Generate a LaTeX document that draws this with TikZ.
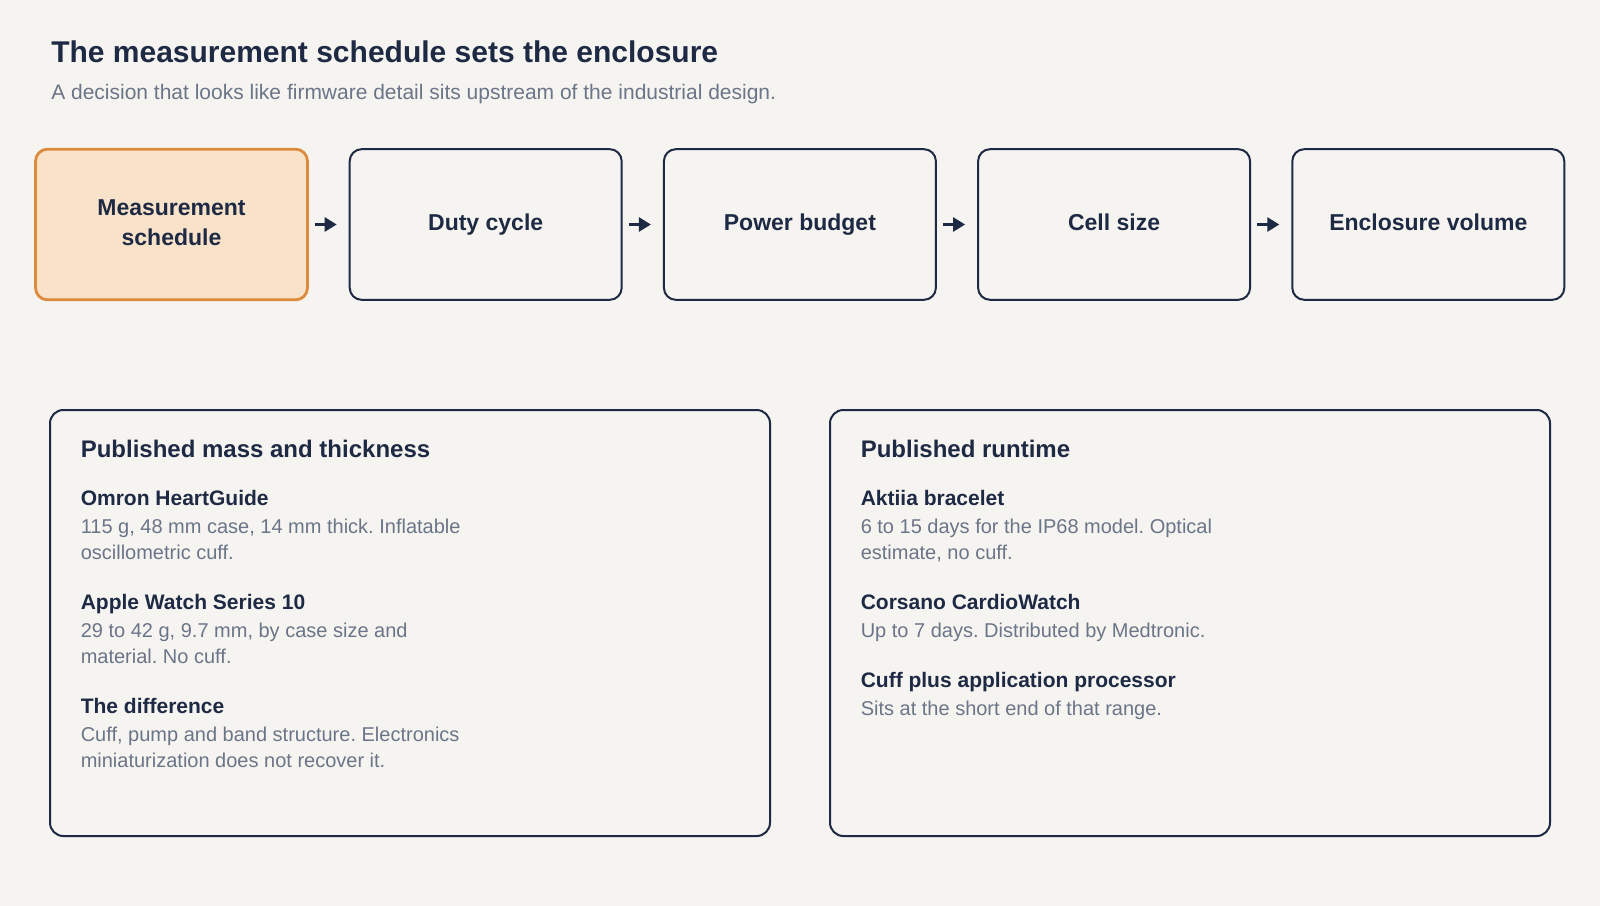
\documentclass[tikz,border=0pt]{standalone}
\usepackage{fontspec}
\setmainfont{Liberation Sans}
\usetikzlibrary{arrows.meta,calc}
\frenchspacing
\definecolor{navy}{HTML}{1E2A44}
\definecolor{graytext}{HTML}{6B7588}
\definecolor{orangeline}{HTML}{DC8B3C}
\definecolor{orangefill}{HTML}{F8E3CA}
\definecolor{bgcol}{HTML}{F6F4F0}
\tikzset{
  stagebox/.style={draw=navy, line width=1.5pt, rounded corners=9pt, fill=bgcol,
    minimum width=204pt, minimum height=113pt, inner sep=0pt},
  startbox/.style={stagebox, draw=orangeline, fill=orangefill, line width=2.1pt},
  stagelabel/.style={text=navy, font=\fontsize{17.25}{22}\selectfont\bfseries, inner sep=0pt, align=center},
  flowarrow/.style={draw=navy, line width=2pt, -{Triangle[length=9pt,width=10.5pt]},
    shorten <=4.5pt, shorten >=9pt},
  panel/.style={draw=navy, line width=1.5pt, rounded corners=10pt, fill=bgcol,
    minimum width=540pt, minimum height=319.5pt, inner sep=0pt},
  panelhead/.style={text=navy, font=\fontsize{18}{22}\selectfont\bfseries, inner sep=0pt, anchor=base west},
  itemhead/.style={text=navy, font=\fontsize{15.75}{19}\selectfont\bfseries, inner sep=0pt, anchor=base west},
  itembody/.style={text=graytext, font=\fontsize{15}{19.5}\selectfont, inner sep=0pt, anchor=base west, align=left},
}
\begin{document}
\begin{tikzpicture}[x=0.75pt,y=-0.75pt]
\fill[bgcol] (0,0) rectangle (1600,906);
\useasboundingbox (0,0) rectangle (1600,906);

\node[text=navy, font=\fontsize{22.5}{27}\selectfont\bfseries, inner sep=0pt, anchor=base west] (title) at (51,62.3) {The measurement schedule sets the enclosure};
\node[text=graytext, font=\fontsize{15.75}{19}\selectfont, inner sep=0pt, anchor=base west] (subtitle) at (51,99.3) {A decision that looks like firmware detail sits upstream of the industrial design.};

\node[startbox] (b1) at (171.5,224.5) {};
\node[stagebox] (b2) at (485.7,224.5) {};
\node[stagebox] (b3) at (799.9,224.5) {};
\node[stagebox] (b4) at (1114.1,224.5) {};
\node[stagebox] (b5) at (1428.3,224.5) {};

\node[stagelabel, anchor=base, font=\fontsize{17.25}{22}\selectfont\bfseries] (l1) at ($(b1.center)+(0,20.8)$) {Measurement\\schedule};
\node[stagelabel, anchor=base] (l2) at ($(b2.center)+(0,6.2)$) {Duty cycle};
\node[stagelabel, anchor=base] (l3) at ($(b3.center)+(0,6.2)$) {Power budget};
\node[stagelabel, anchor=base] (l4) at ($(b4.center)+(0,6.2)$) {Cell size};
\node[stagelabel, anchor=base] (l5) at ($(b5.center)+(0,6.2)$) {Enclosure volume};

\draw[flowarrow] (b1.east) -- (b2.west);
\draw[flowarrow] (b2.east) -- (b3.west);
\draw[flowarrow] (b3.east) -- (b4.west);
\draw[flowarrow] (b4.east) -- (b5.west);

\node[panel] (p1) at (410,623) {};
\node[panel] (p2) at (1190,623) {};

\node[panelhead] (h1) at (80.5,457.7) {Published mass and thickness};
\node[itemhead] (i11) at (80.5,505.5) {Omron HeartGuide};
\node[itembody] (t11) at (80.5,559.3) {115 g, 48 mm case, 14 mm thick. Inflatable\\oscillometric cuff.};
\node[itemhead] (i12) at (80.5,609.5) {Apple Watch Series 10};
\node[itembody] (t12) at (80.5,663.3) {29 to 42 g, 9.7 mm, by case size and\\material. No cuff.};
\node[itemhead] (i13) at (80.5,713.5) {The difference};
\node[itembody] (t13) at (80.5,767.3) {Cuff, pump and band structure. Electronics\\miniaturization does not recover it.};

\node[panelhead] (h2) at (860.5,457.7) {Published runtime};
\node[itemhead] (i21) at (860.5,505.5) {Aktiia bracelet};
\node[itembody] (t21) at (860.5,559.3) {6 to 15 days for the IP68 model. Optical\\estimate, no cuff.};
\node[itemhead] (i22) at (860.5,609.5) {Corsano CardioWatch};
\node[itembody] (t22) at (860.5,637.3) {Up to 7 days. Distributed by Medtronic.};
\node[itemhead] (i23) at (860.5,687.3) {Cuff plus application processor};
\node[itembody] (t23) at (860.5,715) {Sits at the short end of that range.};
\end{tikzpicture}
\end{document}
